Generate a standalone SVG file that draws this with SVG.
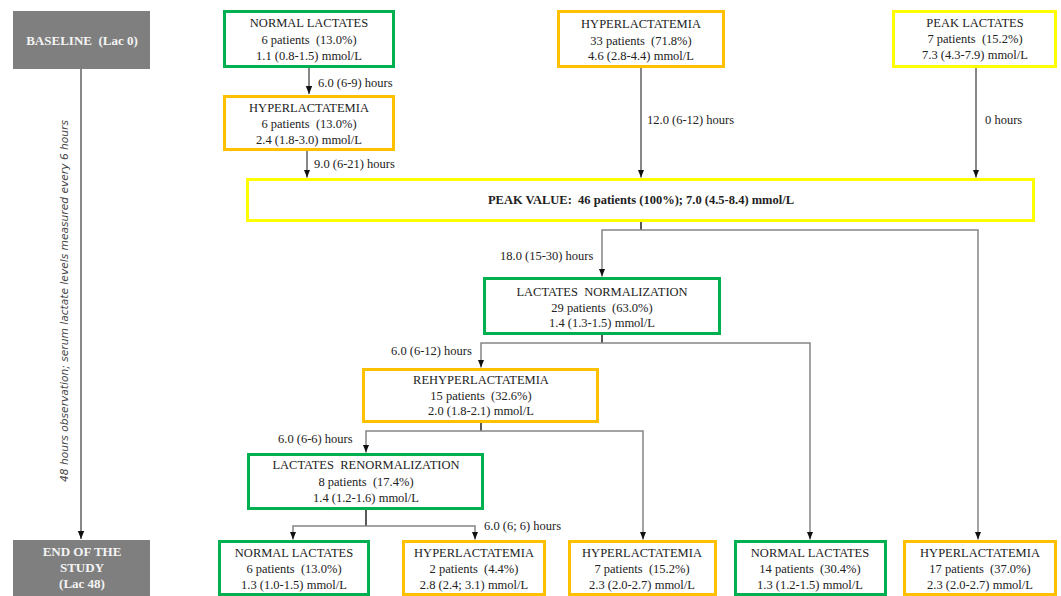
<svg xmlns="http://www.w3.org/2000/svg" width="1061" height="596" viewBox="0 0 1061 596">
<style>
.t{font-family:"Liberation Serif","Times New Roman",serif;font-size:12.5px;fill:#222;text-anchor:middle}
.b{font-weight:bold}
.w{fill:#f4f4f4;font-size:13px;font-weight:bold}
.lbl{font-family:"Liberation Serif","Times New Roman",serif;font-size:12.5px;fill:#222}
.gb{fill:#fff;stroke:#00B050;stroke-width:3}
.ob{fill:#fff;stroke:#FFC000;stroke-width:3}
.yb{fill:#fff;stroke:#FFFF00;stroke-width:3}
.grey{fill:#7f7f7f}
.ar{stroke:#111;stroke-width:1;fill:none}
.br{stroke:#858585;stroke-width:1.5;fill:none}
.stub{stroke:#222;stroke-width:1.5;fill:none}
.side{font-family:"DejaVu Sans",Verdana,sans-serif;font-style:italic;font-size:10px;fill:#444;text-anchor:middle}
</style>
<defs>
<marker id="ah" markerUnits="userSpaceOnUse" markerWidth="8" markerHeight="8" viewBox="0 0 8 8" refX="8" refY="4" orient="auto">
<path d="M0,0.8 L8,4 L0,7.2 Z" fill="#111"/>
</marker>
</defs>

<g id="baseline">
<rect class="grey" x="13" y="11" width="137" height="58"/>
<text class="t w" x="82" y="45" xml:space="preserve">BASELINE  (Lac 0)</text>
</g>
<g id="end">
<rect class="grey" x="13" y="540" width="137" height="56"/>
<text class="t w" x="82" y="556">END OF THE</text>
<text class="t w" x="82" y="572">STUDY</text>
<text class="t w" x="82" y="588">(Lac 48)</text>
</g>
<text class="side" transform="translate(68,301) rotate(-90)" textLength="362" lengthAdjust="spacingAndGlyphs">48 hours observation; serum lactate levels measured every 6 hours</text>

<g id="connectors">
<line class="ar" x1="81" y1="69" x2="81" y2="539" stroke-width="1.6" marker-end="url(#ah)"/>
<line class="ar" x1="309" y1="68" x2="309" y2="94" marker-end="url(#ah)"/>
<line class="ar" x1="307" y1="151" x2="307" y2="177.5" marker-end="url(#ah)"/>
<line class="ar" x1="641" y1="68" x2="641" y2="177.5" marker-end="url(#ah)"/>
<line class="ar" x1="976" y1="68" x2="976" y2="177.5" marker-end="url(#ah)"/>
<line class="stub" x1="641" y1="222" x2="641" y2="230"/>
<path class="br" d="M641,230 H602 V276.5" marker-end="url(#ah)"/>
<path class="br" d="M641,230 H978 V539.5" marker-end="url(#ah)"/>
<line class="stub" x1="602" y1="335" x2="602" y2="343"/>
<path class="br" d="M602,343 H481 V367.5" marker-end="url(#ah)"/>
<path class="br" d="M602,343 H810 V539.5" marker-end="url(#ah)"/>
<line class="stub" x1="481" y1="423" x2="481" y2="431"/>
<path class="br" d="M481,431 H366 V452.5" marker-end="url(#ah)"/>
<path class="br" d="M481,431 H643 V539.5" marker-end="url(#ah)"/>
<line class="stub" x1="366" y1="510" x2="366" y2="526"/>
<path class="br" d="M366,526 H293 V539.5" marker-end="url(#ah)"/>
<path class="br" d="M366,526 H475 V539.5" marker-end="url(#ah)"/>
<text class="lbl" x="318" y="87">6.0 (6-9) hours</text>
<text class="lbl" x="314" y="168">9.0 (6-21) hours</text>
<text class="lbl" x="647" y="124">12.0 (6-12) hours</text>
<text class="lbl" x="985" y="124">0 hours</text>
<text class="lbl" x="500" y="260">18.0 (15-30) hours</text>
<text class="lbl" x="391" y="355">6.0 (6-12) hours</text>
<text class="lbl" x="278" y="443">6.0 (6-6) hours</text>
<text class="lbl" x="484" y="530">6.0 (6; 6) hours</text>
</g>

<g id="normal0">
<rect class="gb" x="224.5" y="11.5" width="169" height="55"/>
<text class="t" x="309" y="27">NORMAL LACTATES</text>
<text class="t" x="309" y="44" xml:space="preserve">6 patients  (13.0%)</text>
<text class="t" x="309" y="60">1.1 (0.8-1.5) mmol/L</text>
</g>
<g id="hyper0">
<rect class="ob" x="224.5" y="96.5" width="169" height="53"/>
<text class="t" x="309" y="112">HYPERLACTATEMIA</text>
<text class="t" x="309" y="128" xml:space="preserve">6 patients  (13.0%)</text>
<text class="t" x="309" y="144">2.4 (1.8-3.0) mmol/L</text>
</g>
<g id="hyper1">
<rect class="ob" x="558.5" y="11.5" width="165" height="55"/>
<text class="t" x="641" y="28">HYPERLACTATEMIA</text>
<text class="t" x="641" y="45" xml:space="preserve">33 patients  (71.8%)</text>
<text class="t" x="641" y="60">4.6 (2.8-4.4) mmol/L</text>
</g>
<g id="peaklac">
<rect class="yb" x="893.5" y="11.5" width="162" height="55"/>
<text class="t" x="975" y="27">PEAK LACTATES</text>
<text class="t" x="975" y="43" xml:space="preserve">7 patients  (15.2%)</text>
<text class="t" x="975" y="59">7.3 (4.3-7.9) mmol/L</text>
</g>
<g id="peakvalue">
<rect class="yb" x="247.5" y="179.5" width="786" height="41"/>
<text class="t b" x="641" y="204" xml:space="preserve">PEAK VALUE:  46 patients (100%); 7.0 (4.5-8.4) mmol/L</text>
</g>
<g id="normalization">
<rect class="gb" x="484.5" y="278.5" width="235" height="55"/>
<text class="t" x="602" y="296" xml:space="preserve">LACTATES  NORMALIZATION</text>
<text class="t" x="602" y="312" xml:space="preserve">29 patients  (63.0%)</text>
<text class="t" x="602" y="327">1.4 (1.3-1.5) mmol/L</text>
</g>
<g id="rehyper">
<rect class="ob" x="363.5" y="369.5" width="234" height="52"/>
<text class="t" x="481" y="384">REHYPERLACTATEMIA</text>
<text class="t" x="481" y="400" xml:space="preserve">15 patients  (32.6%)</text>
<text class="t" x="481" y="415">2.0 (1.8-2.1) mmol/L</text>
</g>
<g id="renorm">
<rect class="gb" x="248.5" y="454.5" width="234" height="54"/>
<text class="t" x="366" y="469" xml:space="preserve">LACTATES  RENORMALIZATION</text>
<text class="t" x="366" y="486" xml:space="preserve">8 patients  (17.4%)</text>
<text class="t" x="366" y="502">1.4 (1.2-1.6) mmol/L</text>
</g>
<g id="end1">
<rect class="gb" x="219.5" y="541.5" width="149" height="53"/>
<text class="t" x="294" y="557">NORMAL LACTATES</text>
<text class="t" x="294" y="573" xml:space="preserve">6 patients  (13.0%)</text>
<text class="t" x="294" y="589">1.3 (1.0-1.5) mmol/L</text>
</g>
<g id="end2">
<rect class="ob" x="403.5" y="541.5" width="141" height="53"/>
<text class="t" x="474" y="557">HYPERLACTATEMIA</text>
<text class="t" x="474" y="573" xml:space="preserve">2 patients  (4.4%)</text>
<text class="t" x="474" y="589">2.8 (2.4; 3.1) mmol/L</text>
</g>
<g id="end3">
<rect class="ob" x="569.5" y="541.5" width="146" height="53"/>
<text class="t" x="642" y="557">HYPERLACTATEMIA</text>
<text class="t" x="642" y="573" xml:space="preserve">7 patients  (15.2%)</text>
<text class="t" x="642" y="589">2.3 (2.0-2.7) mmol/L</text>
</g>
<g id="end4">
<rect class="gb" x="735.5" y="541.5" width="150" height="53"/>
<text class="t" x="810" y="557">NORMAL LACTATES</text>
<text class="t" x="810" y="573" xml:space="preserve">14 patients  (30.4%)</text>
<text class="t" x="810" y="589">1.3 (1.2-1.5) mmol/L</text>
</g>
<g id="end5">
<rect class="ob" x="904.5" y="541.5" width="151" height="53"/>
<text class="t" x="980" y="557">HYPERLACTATEMIA</text>
<text class="t" x="980" y="573" xml:space="preserve">17 patients  (37.0%)</text>
<text class="t" x="980" y="589">2.3 (2.0-2.7) mmol/L</text>
</g>
</svg>
